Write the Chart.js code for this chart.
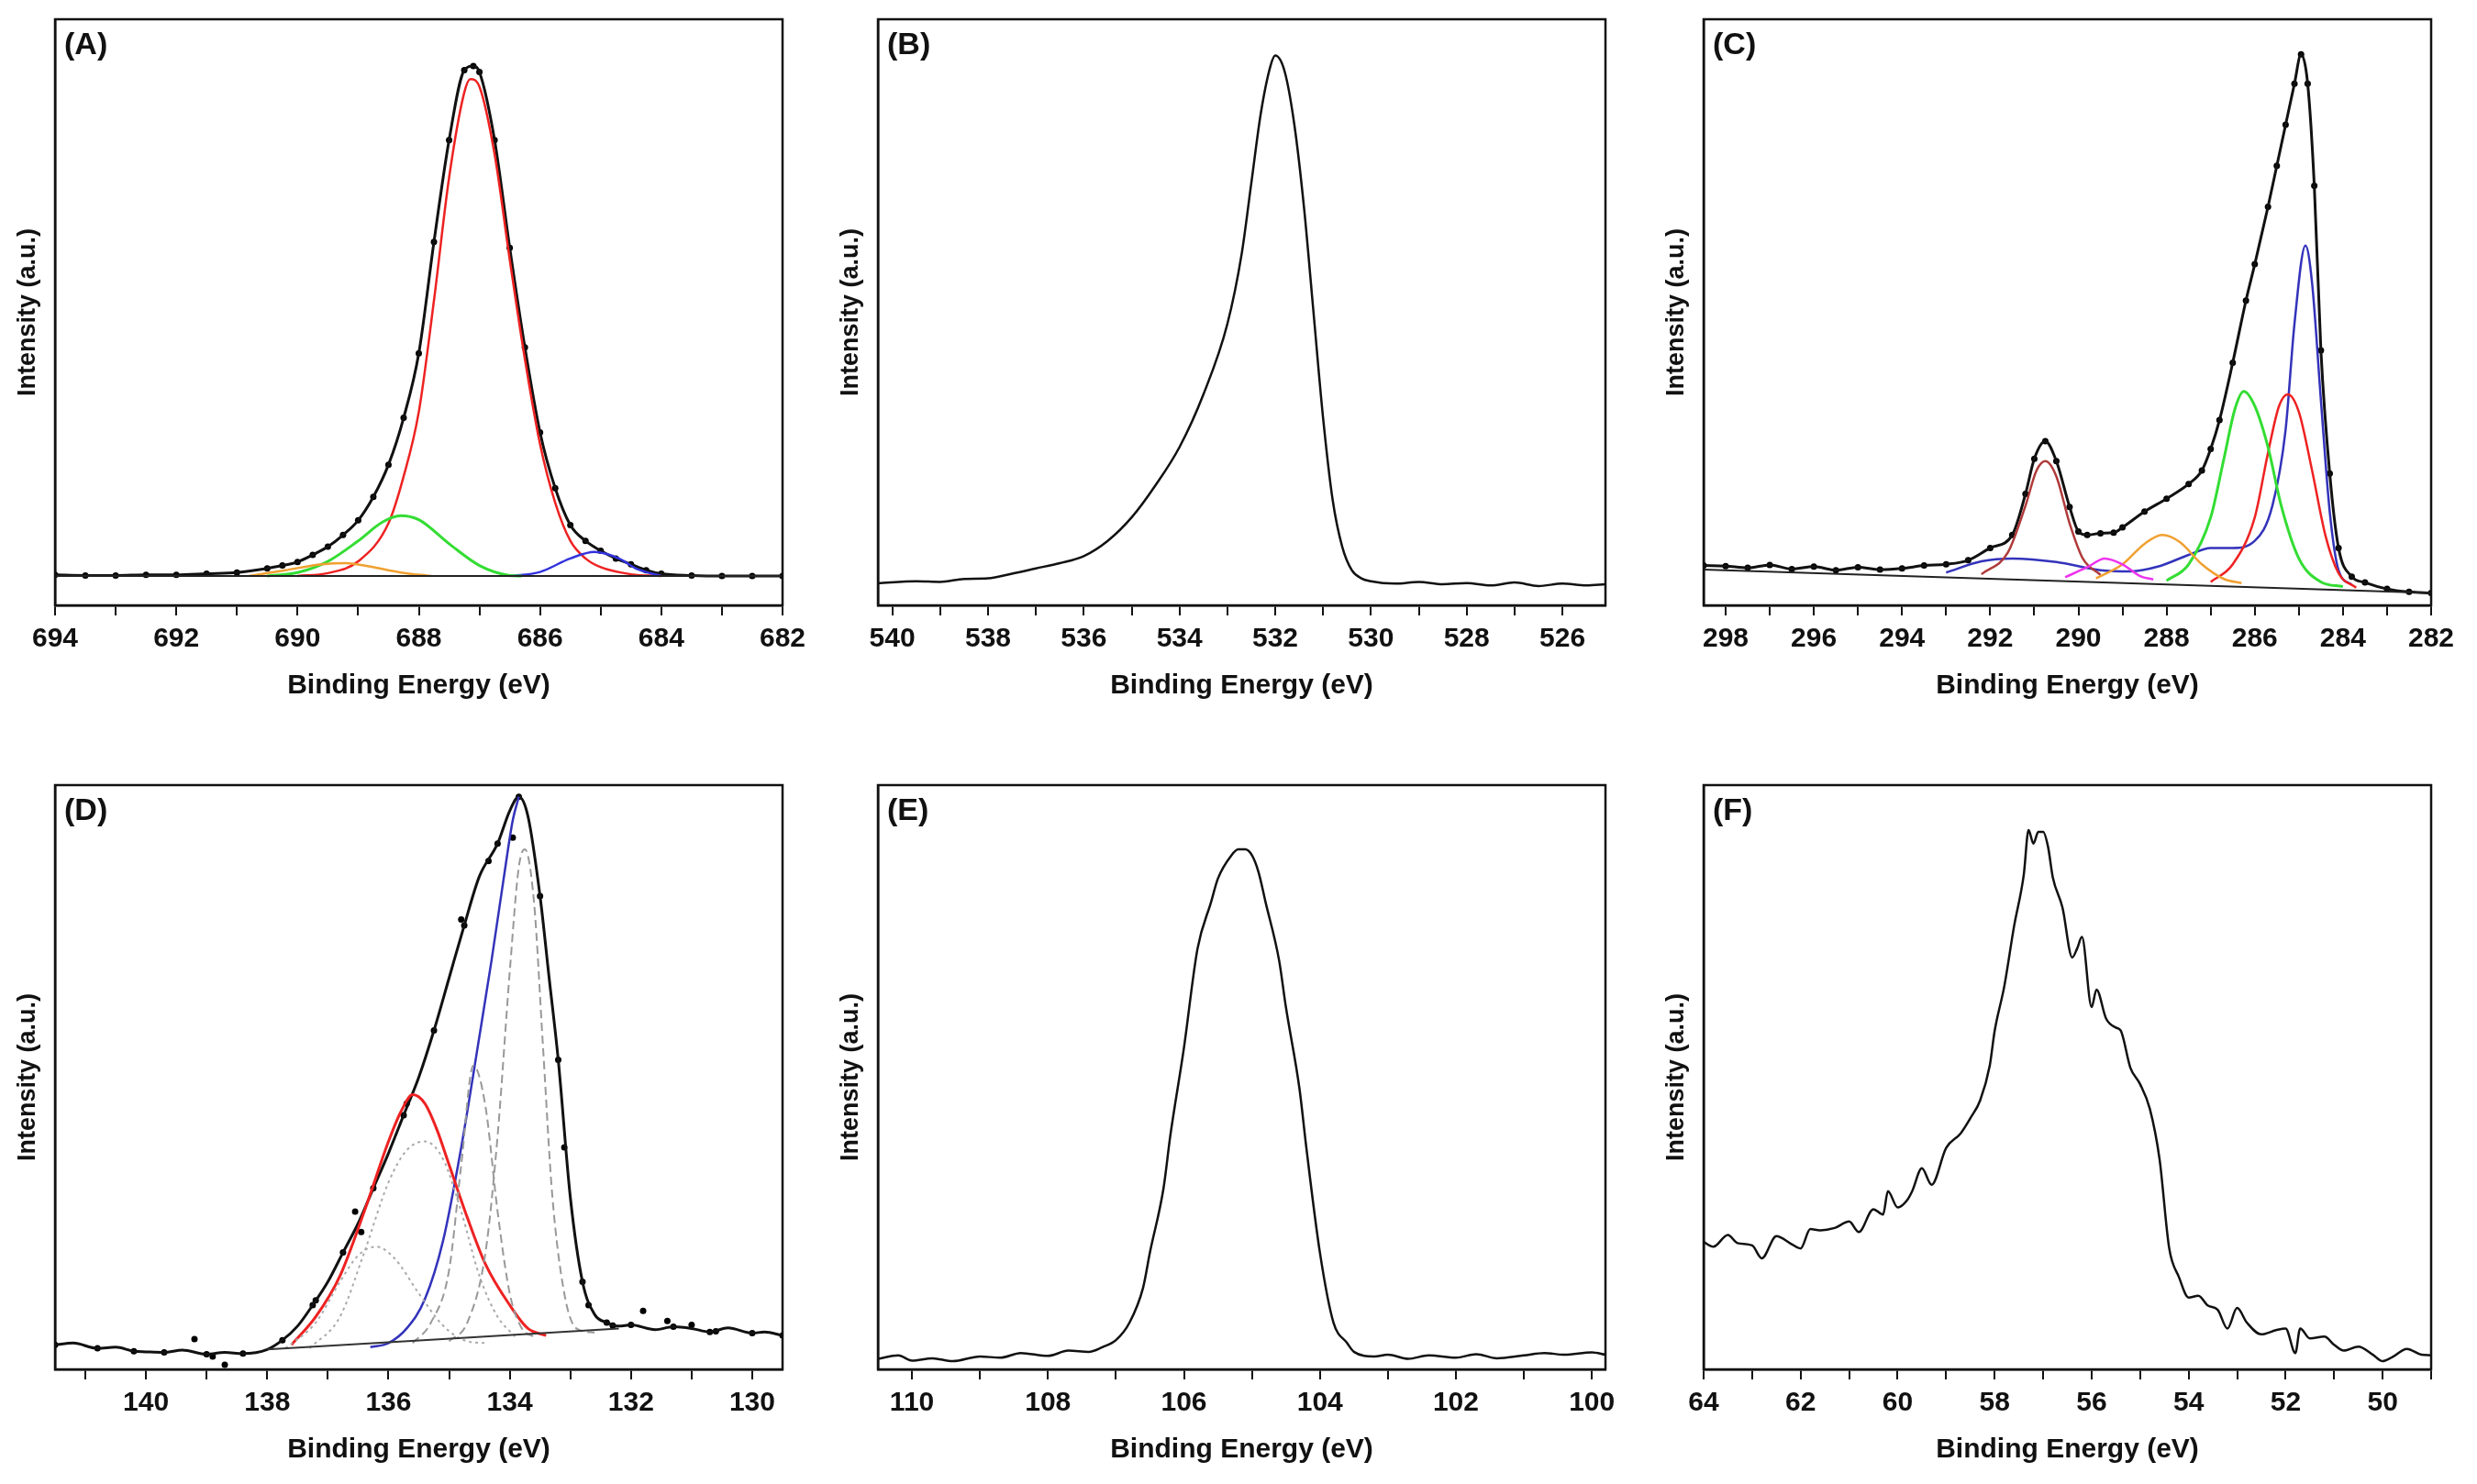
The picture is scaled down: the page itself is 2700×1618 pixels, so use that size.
<!DOCTYPE html>
<html><head><meta charset="utf-8">
<script src="https://cdn.jsdelivr.net/npm/chart.js@4"></script>
<style>body{margin:0;background:#fff;width:2700px;height:1618px;position:relative;overflow:hidden}canvas{position:absolute}</style>
</head><body>
<script>
// ---- Data (eV, relative intensity %) ----
const A_env=[[694,5.2],[693.5,5.1],[693,5.1],[692.5,5.2],[692,5.2],[691.5,5.4],[691,5.6],[690.5,6.3],[690.25,6.8],[690,7.4],[689.75,8.6],[689.5,10],[689.25,12],[689,14.5],[688.75,18.5],[688.5,24],[688.25,32],[688,43],[687.75,62],[687.5,79.4],[687.25,91.3],[687.1,92],[687,91],[686.75,79.4],[686.5,61],[686.25,44],[686,29.5],[685.75,20],[685.5,13.7],[685.25,11],[685,9.3],[684.75,8],[684.5,7],[684.25,6],[684,5.4],[683.5,5.1],[683,5],[682.5,5],[682,5]];
const A_red=[[690,5],[689.5,5.5],[689,7.5],[688.5,14],[688.25,22],[688,33],[687.75,52],[687.5,73],[687.25,87.5],[687.15,89.8],[687,88.5],[686.75,77],[686.5,59],[686.25,42],[686,27.5],[685.75,17.5],[685.5,11],[685.25,8],[685,6.5],[684.5,5.3],[684,5]];
const A_green=[[690.5,5],[690,5.6],[689.5,7.5],[689,11],[688.6,14.2],[688.3,15.3],[688,14.6],[687.5,10.5],[687,6.8],[686.5,5.1],[686.3,5]];
const A_blue=[[686.5,5],[686,5.7],[685.5,8],[685.1,9.1],[684.7,8],[684.4,6.2],[684,5]];
const A_orange=[[690.8,5],[690.2,6],[689.6,7],[689.2,7.2],[688.8,6.6],[688.3,5.6],[687.8,5]];
const A_base=[[694,5],[682,5]];

const B_x=[540.3,539.5,539,538.5,538,537.5,537,536.5,536,535.5,535,534.5,534,533.5,533,532.7,532.5,532.3,532.1,532,531.8,531.6,531.4,531.2,531,530.8,530.6,530.4,530.2,530,529.5,529,528.5,528,527.5,527,526.5,526,525.5,525.1];
const B_y=[3.8,4.1,4.0,4.5,4.6,5.4,6.3,7.2,8.4,11,15,20.5,27,36,48,60,72,84,92,93.8,91,82,68,50,32,18,10,6,4.6,4.1,3.7,4.0,3.6,3.8,3.4,3.9,3.3,3.7,3.4,3.6];

const C_env=[[298.5,6.8],[298,6.7],[297.5,6.4],[297,6.9],[296.5,6.2],[296,6.6],[295.5,6.0],[295,6.5],[294.5,6.1],[294,6.3],[293.5,6.8],[293,7.0],[292.5,7.7],[292,9.8],[291.5,12],[291.2,19],[291,25],[290.75,28],[290.5,24.6],[290.2,16.8],[290,12.6],[289.8,12],[289.5,12.3],[289.2,12.4],[289,13.3],[288.5,16],[288,18.2],[287.5,20.7],[287.2,23],[287,26.7],[286.8,31.6],[286.5,41.4],[286.2,52],[286,58.2],[285.7,68],[285.5,75],[285.3,82],[285.1,89],[284.95,94],[284.8,89],[284.65,71.6],[284.5,43.5],[284.3,22.5],[284.1,9.8],[283.8,4.9],[283.5,3.9],[283,2.8],[282.5,2.3],[282,2.1]];
const C_brown=[[292.2,5.3],[291.6,9],[291.2,17],[290.95,23],[290.75,24.6],[290.5,22],[290.2,14],[289.9,8],[289.5,5.2]];
const C_blueA=[[293,5.6],[292.2,7.5],[291.5,8],[290.5,7.4],[289.5,6],[288.8,5.8],[288.2,6.6],[287.5,8.6],[287,9.8],[286.5,9.8],[286,11],[285.6,17],[285.3,30],[285.1,48],[284.85,61.4],[284.7,55],[284.5,35],[284.3,16],[284.1,6],[283.8,3.5]];
const C_magenta=[[290.3,4.8],[289.8,6.5],[289.4,8],[289,7],[288.6,5],[288.3,4.4]];
const C_orange=[[289.6,4.6],[289,7],[288.5,10.5],[288.1,12],[287.7,10.8],[287.2,7],[286.7,4.5],[286.3,3.8]];
const C_green=[[288,4.2],[287.5,7],[287,15],[286.7,25],[286.45,33.5],[286.25,36.5],[286,34],[285.7,27],[285.4,17],[285,8],[284.5,4],[284,3.2]];
const C_red=[[287,4],[286.5,7],[286,15],[285.7,26],[285.45,34],[285.25,36],[285,33],[284.7,23],[284.4,12],[284.1,5.5],[283.7,3]];
const C_base=[[298.5,6.1],[282,2.1]];

const D_env=[[141.5,4.2],[141.2,4.5],[140.8,3.6],[140.5,3.8],[140.2,3.1],[140,3],[139.7,2.9],[139.4,3.3],[139,2.6],[138.7,2.9],[138.4,2.7],[138,3.4],[137.75,5],[137.5,7.4],[137.25,11],[137,15],[136.75,20],[136.5,25],[136.25,31],[136,37],[135.75,43.5],[135.5,50],[135.25,58],[135,67],[134.75,76],[134.5,84.4],[134.2,90],[134,95.6],[133.85,98],[133.7,94.7],[133.5,81],[133.35,67],[133.2,53],[133,29.4],[132.8,15],[132.6,9.4],[132.4,8],[132.2,7.4],[132,7.6],[131.6,6.8],[131.3,7.3],[131,7],[130.7,6.4],[130.4,7.1],[130,6.2],[129.8,6.4],[129.5,5.8]];
const D_dots=[[139.2,5.2],[138.7,0.8],[138.9,2.2],[137.2,11.8],[136.55,27],[136.45,23.5],[135.7,45.5],[134.8,77],[134.35,87],[133.95,91],[132.7,11],[132.3,7.5],[131.8,10],[131.4,8.3],[131,7.6],[130.6,6.5],[133.1,38]];
const D_red=[[137.6,4.2],[137.2,9],[136.8,16],[136.4,27],[136,39],[135.8,44],[135.6,47],[135.4,45.5],[135.2,41],[135,35],[134.7,26],[134.4,18],[134,11],[133.7,7],[133.4,5.8]];
const D_blue=[[136.3,3.8],[136,4.5],[135.7,7],[135.4,12],[135.1,22],[134.8,38],[134.5,57],[134.3,70],[134.1,84],[133.95,94],[133.85,98]];
const D_g1=[[137.7,3.6],[137.2,8],[136.8,15],[136.5,19.5],[136.2,21],[135.9,19],[135.5,13],[135.1,7.5],[134.7,4.8],[134.4,4.5]];
const D_g2=[[137.3,3.6],[136.8,9],[136.4,20],[136,32],[135.7,37.5],[135.4,39],[135.1,36],[134.8,27],[134.5,16],[134.2,9],[133.9,5.5]];
const D_g3=[[135.6,4.5],[135.3,8],[135,17],[134.8,35],[134.6,52],[134.4,45],[134.2,27],[134,13],[133.8,7],[133.6,5.6]];
const D_g4=[[135,4.8],[134.7,8],[134.4,20],[134.2,40],[134,68],[133.85,86],[133.75,89],[133.6,80],[133.45,55],[133.3,30],[133.1,13],[132.9,7],[132.6,6.3]];
const D_base=[[138,3.4],[132.2,7]];

const E_x=[110.5,110.2,110,109.7,109.4,109,108.7,108.4,108,107.7,107.4,107.2,107,106.8,106.6,106.5,106.3,106.2,106,105.8,105.6,105.5,105.3,105.2,105.1,105,104.9,104.8,104.6,104.5,104.3,104.2,104,103.8,103.6,103.5,103.2,103,102.7,102.4,102,101.7,101.4,101,100.7,100.4,100,99.8];
const E_y=[1.8,2.4,1.5,1.9,1.4,2.2,2.0,2.8,2.3,3.2,3.0,3.8,5,8,14,20,31,40,55,72,80,84,88,89,89,88,85,80,70,62,48,38,20,8,4.5,3,2.2,2.5,1.8,2.4,2.0,2.6,1.9,2.4,2.8,2.5,2.9,2.5];

const F_x=[64,63.8,63.5,63.3,63,62.8,62.5,62.2,62,61.8,61.6,61.3,61,60.8,60.5,60.3,60.2,60,59.8,59.7,59.5,59.3,59,58.7,58.5,58.3,58.1,58,57.8,57.6,57.4,57.3,57.2,57.1,57,56.9,56.8,56.6,56.4,56.3,56.2,56,55.9,55.7,55.5,55.4,55.2,55,54.8,54.6,54.4,54.2,54,53.8,53.6,53.4,53.2,53,52.8,52.5,52.2,52,51.8,51.7,51.5,51.2,51,50.8,50.5,50.2,50,49.8,49.5,49.2,49];
const F_y=[21.8,21,23,21.6,21.2,19,22.8,21.5,20.7,24,23.8,24.2,25.3,23.5,27.4,26.5,30.5,27.7,29,30.5,34.4,31.6,37.9,40.4,43,46,52,57.9,65.6,75.8,84.6,92.3,90,92,92,89.5,84.2,79,70.5,72,74,62,65,60,58.5,58,51.6,48.8,44.6,36,20.7,15.8,12.3,12.6,10.9,10.2,7,10.5,8,6,6.7,7,2.8,7,5.3,5.6,4.2,3.2,3.9,2.5,1.4,2.1,3.5,2.5,2.4];

// ---- helpers ----
const pts=a=>a.map(p=>({x:p[0],y:p[1]}));
const zip=(xs,ys)=>xs.map((x,i)=>({x,y:ys[i]}));
const FONT='"Liberation Sans", Arial, sans-serif';
function line(data,color,w,opt){return Object.assign({type:'line',data:data,borderColor:color,borderWidth:w,pointRadius:0,tension:0.35,cubicInterpolationMode:'monotone',fill:false},opt||{});}
function dots(data){return {type:'scatter',data:data,showLine:false,pointRadius:3.5,pointBackgroundColor:'#000',borderColor:'#000',borderWidth:0};}

const boxPlugin={id:'box',afterDraw(c){const a=c.chartArea,g=c.ctx;g.save();g.strokeStyle='#111';g.lineWidth=2.5;g.strokeRect(a.left,a.top,a.right-a.left,a.bottom-a.top);
 g.fillStyle='#111';g.font='bold 34px '+FONT;g.textBaseline='top';g.fillText(c.options.plugins.tag,a.left+10,a.top+12);g.restore();}};

function panel(id,left,top,w,h,xmin,xmax,datasets,tag){
 const cv=document.createElement('canvas');const L=46,T=6,R=24,B=110;
 cv.width=w+L+R;cv.height=h+T+B;cv.style.left=(left-L)+'px';cv.style.top=(top-T)+'px';document.body.appendChild(cv);
 new Chart(cv,{data:{datasets:datasets},options:{responsive:false,animation:false,devicePixelRatio:1,
  layout:{padding:{top:T,right:R,left:0,bottom:0}},
  plugins:{legend:{display:false},tooltip:{enabled:false},tag:tag},
  scales:{
   x:{type:'linear',reverse:true,min:xmin,max:xmax,afterFit:s=>{s.height=B;},
    afterBuildTicks:s=>{const t=[];for(let v=Math.ceil(xmin);v<=Math.floor(xmax);v++)t.push({value:v});s.ticks=t;},
    ticks:{autoSkip:false,maxRotation:0,color:'#111',font:{family:FONT,size:30,weight:'bold'},padding:8,callback:v=>v%2===0?v:''},
    grid:{drawOnChartArea:false,tickLength:11,color:'#111',lineWidth:2},border:{color:'#111',width:2.5},
    title:{display:true,text:'Binding Energy (eV)',color:'#111',font:{family:FONT,size:30,weight:'bold'},padding:{top:2}}},
   y:{min:0,max:100,afterFit:s=>{s.width=L;},ticks:{display:false},grid:{display:false},border:{color:'#111',width:2.5},
    title:{display:true,text:'Intensity (a.u.)',color:'#111',font:{family:FONT,size:27,weight:'bold'},padding:{top:0,bottom:0}}}
  }},plugins:[boxPlugin]});
}

const R1T=21,R1H=639,R2T=856,R2H=637,PW=793;
panel('A',60,R1T,PW,R1H,682,694,[
 line(pts(A_base),'#222',2),line(pts(A_orange),'#f0a030',2.5),line(pts(A_green),'#33dd33',3),line(pts(A_blue),'#3333dd',2.5),
 line(pts(A_red),'#ee2222',2.5),line(pts(A_env),'#111',3),dots(pts(A_env))],'(A)');
panel('B',957,R1T,PW,R1H,525.1,540.3,[line(zip(B_x,B_y),'#111',2.5,{tension:0.3})],'(B)');
panel('C',1857,R1T,PW,R1H,282,298.5,[
 line(pts(C_base),'#222',2),line(pts(C_magenta),'#ee33ee',2.5),line(pts(C_orange),'#f0a030',2.5),line(pts(C_brown),'#b03a3a',2.5),
 line(pts(C_green),'#33dd33',3),line(pts(C_red),'#ee2222',2.5),line(pts(C_blueA),'#3333bb',2.5),line(pts(C_env),'#111',3),dots(pts(C_env))],'(C)');
panel('D',60,R2T,PW,R2H,129.5,141.5,[
 line(pts(D_base),'#333',2),line(pts(D_g1),'#aaa',2,{borderDash:[3,4]}),line(pts(D_g2),'#aaa',2,{borderDash:[3,4]}),
 line(pts(D_g3),'#999',2,{borderDash:[9,5]}),line(pts(D_g4),'#999',2,{borderDash:[9,5]}),
 line(pts(D_red),'#ee2222',3),line(pts(D_blue),'#3333bb',2.5),line(pts(D_env),'#111',3,{tension:0.25}),dots(pts(D_env.filter((p,i)=>i%2==0))),dots(pts(D_dots))],'(D)');
panel('E',957,R2T,PW,R2H,99.8,110.5,[line(zip(E_x,E_y),'#111',2.5,{tension:0.3})],'(E)');
panel('F',1857,R2T,PW,R2H,49,64,[line(zip(F_x,F_y),'#111',2.5,{tension:0})],'(F)');
</script>
</body></html>
